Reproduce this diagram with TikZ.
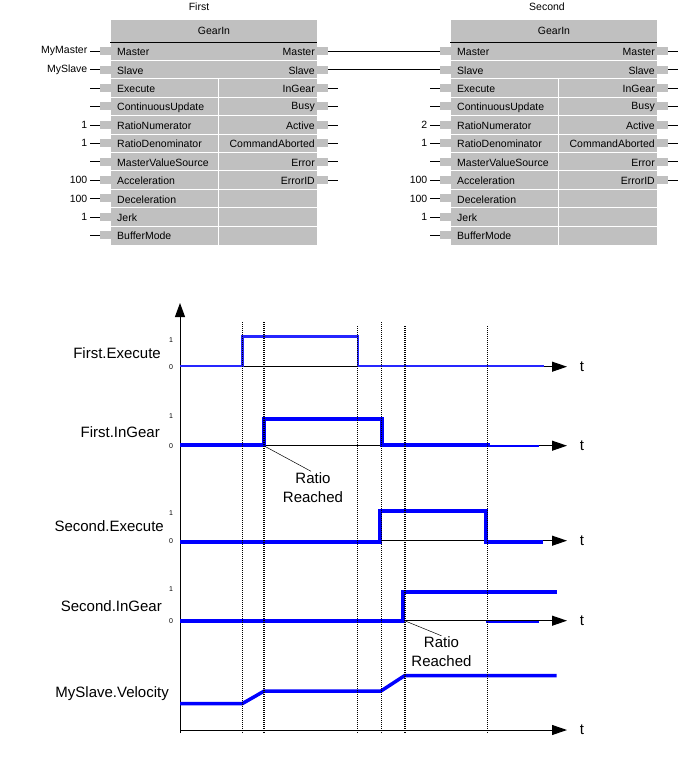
\documentclass[tikz,border=0pt]{standalone}
\usepackage{fontspec}
\setmainfont{Liberation Sans}
\usepackage{tikz}
\usetikzlibrary{arrows.meta}

\definecolor{fbgray}{RGB}{192,192,192}
\definecolor{sigblue}{RGB}{0,0,255}

\begin{document}
\begin{tikzpicture}[x=1pt,y=-1pt,font=\fontsize{10.5}{12}\selectfont,
                    >={Triangle[length=15pt,width=10pt]}]
  \tikzstyle{fbpin}=[fill=fbgray,minimum width=11pt,minimum height=8pt,inner sep=0pt]
  \tikzstyle{rowsep}=[white,line width=1pt]
  \tikzstyle{arg}=[inner sep=1pt]
  \tikzstyle{sig}=[sigblue,line width=4pt,line join=miter]
  \tikzstyle{thinsig}=[sigblue,line width=2pt]
  \tikzstyle{tline}=[black,dash pattern=on 1.2pt off 0.8pt]
  \tikzstyle{signame}=[anchor=east,inner sep=0pt,font=\fontsize{15}{19}\selectfont]
  \tikzstyle{lvl}=[inner sep=0pt,font=\fontsize{7}{8}\selectfont]

  \useasboundingbox (0,0) rectangle (698,766);

  % function blocks
  \foreach \b/\dx/\ttl/\tx in {A/0/First/199,B/340/Second/207} {
    \begin{scope}[xshift=\dx]
      \node (\b-head) at (\tx,7) {\ttl};
      \node[fill=fbgray,anchor=north west,minimum width=206pt,minimum height=225pt,
            inner sep=0pt] (\b) at (111,20) {};
      \node (\b-name) at (214,31) {GearIn};
      \draw[line width=0.8pt] (110,42) -- (317,42);
      \foreach \i in {1,...,10}
        \draw[rowsep] (111,{42+18.4*\i}) -- (317,{42+18.4*\i});
      \draw[rowsep] (218,78.8) -- (218,245);
      \foreach \lab [count=\i] in {Master,Slave,Execute,ContinuousUpdate,RatioNumerator,
          RatioDenominator,MasterValueSource,Acceleration,Deceleration,Jerk,BufferMode} {
        \node[fbpin] (\b-in-\i) at (105.5,{42+18.4*(\i-0.5)}) {};
        \node[arg,anchor=west] (\b-inl-\i) at (116,{43+18.4*(\i-0.5)}) {\lab};
      }
      \foreach \lab [count=\i] in {Master,Slave,InGear,Busy,Active,CommandAborted,
          Error,ErrorID} {
        \node[fbpin] (\b-out-\i) at (322.5,{42+18.4*(\i-0.5)}) {};
        \node[arg,anchor=east] (\b-outl-\i) at (316,{43+18.4*(\i-0.5)}) {\lab};
      }
    \end{scope}
  }

  % input values
  \foreach \v [count=\i] in {MyMaster,MySlave,{},{},1,1,{},100,100,1,{}} {
    \coordinate (A-x-\i) at (90,{42+18.4*(\i-0.5)});
    \draw (A-x-\i) -- (A-in-\i);
    \node[arg,anchor=east] (A-val-\i) at ([xshift=-1.5pt]A-x-\i) {\v};
  }
  \foreach \v [count=\i from 3] in {{},{},2,1,{},100,100,1,{}} {
    \coordinate (B-x-\i) at (430,{42+18.4*(\i-0.5)});
    \draw (B-x-\i) -- (B-in-\i);
    \node[arg,anchor=east] (B-val-\i) at ([xshift=-1.5pt]B-x-\i) {\v};
  }
  % outputs
  \foreach \i in {3,...,8} {
    \coordinate (A-y-\i) at (338,{42+18.4*(\i-0.5)});
    \draw (A-out-\i) -- (A-y-\i);
  }
  \foreach \i in {1,...,8} {
    \coordinate (B-y-\i) at (678,{42+18.4*(\i-0.5)});
    \draw (B-out-\i) -- (B-y-\i);
  }
  \draw (A-out-1) -- (B-in-1);
  \draw (A-out-2) -- (B-in-2);

  % timing diagram
  \coordinate (O) at (180,733);
  \coordinate (Otop) at (180,303);
  \draw[line width=1pt,-{Triangle[length=14pt,width=10pt]}] (O) -- (Otop);
  \foreach \n/\y in {1/366.7,2/445.7,3/540.7,4/620.7,5/730} {
    \coordinate (t\n-o) at (180,\y);
    \coordinate (t\n-e) at (567,\y);
    \draw[->,line width=1pt] (t\n-o) -- (t\n-e);
    \node[inner sep=0pt,font=\fontsize{15}{19}\selectfont] (t\n-lab) at (582,\y) {t};
  }

  % signals
  \draw[thinsig,sigblue!85!white,line width=2.5pt] (180,366) -- (242.5,366) -- (242.5,336.7)
       -- (358,336.7) -- (358,366) -- (544,366);
  \draw[sig] (180,445) -- (264.3,445) -- (264.3,419) -- (381.5,419) -- (381.5,445) -- (490,445);
  \draw[thinsig] (490,446) -- (539,446);
  \draw[sig] (180,541.5) -- (380,541.5) -- (380,510.7) -- (486,510.7) -- (486,541.5) -- (543,541.5);
  \draw[sig] (180,620.7) -- (403,620.7) -- (403,592) -- (556.7,592);
  \draw[thinsig] (486,622) -- (539,622);
  \draw[sigblue,line width=3.5pt] (180,703.5) -- (242.5,703.5) -- (264.3,691) -- (381,691)
       -- (404.5,675.7) -- (556.7,675.7);

  % time marks
  \foreach \x/\t/\w in {242.5/322/1.5,264.3/322/2.1,357.5/326/1.5,381.3/322/1.5,
                        405.3/326/2.1,487.3/326/1.5}
    \draw[tline,line width=\w pt] (\x,\t) -- (\x,733);

  % signal names
  \node[signame] (n1) at (161,352.7) {First.Execute};
  \node[signame] (n2) at (160,431.7) {First.InGear};
  \node[signame] (n3) at (164,526) {Second.Execute};
  \node[signame] (n4) at (162,605.7) {Second.InGear};
  \node[signame] (n5) at (169,693.5) {MySlave.Velocity};

  \foreach \n/\y/\yl in {1/340/367,2/416/446,3/513/541,4/589/621} {
    \node[lvl] (one\n) at (171,\y) {1};
    \node[lvl] (zero\n) at (171,\yl) {0};
  }

  % annotations
  \node[align=center,inner sep=1pt,font=\fontsize{15}{19}\selectfont] (rr1) at (313,487.5)
       {Ratio\\Reached};
  \coordinate (rr1-at) at (264.3,446);
  \draw[line width=0.5pt] (rr1-at) -- ([xshift=-2pt]rr1.north);
  \node[align=center,inner sep=1pt,font=\fontsize{15}{19}\selectfont] (rr2) at (441.5,652)
       {Ratio\\Reached};
  \coordinate (rr2-at) at (405.3,621);
  \draw[line width=0.5pt] (rr2-at) -- (rr2.north);
\end{tikzpicture}
\end{document}
